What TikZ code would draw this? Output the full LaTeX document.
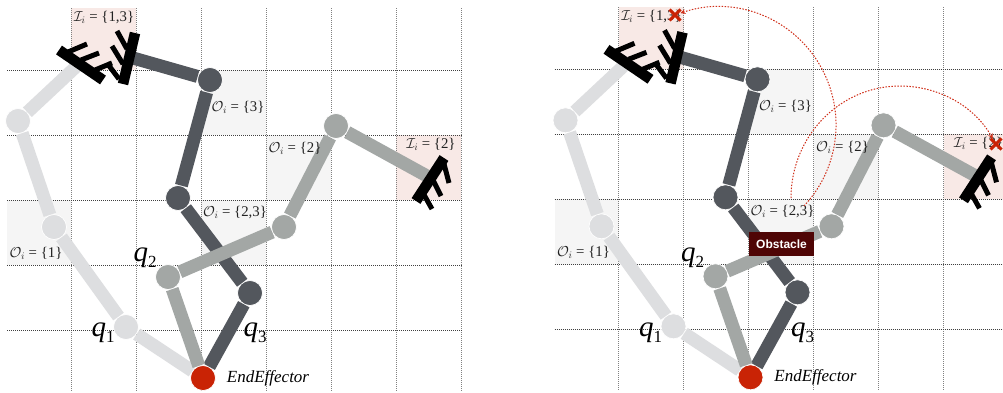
\documentclass[tikz,border=0pt]{standalone}
\usepackage{fontspec}
\setmainfont{Liberation Serif}
\setsansfont{Liberation Sans}
\usetikzlibrary{arrows.meta,shapes.misc}
\definecolor{light}{HTML}{DDDEE0}
\definecolor{mid}{HTML}{A3A7A5}
\definecolor{dark}{HTML}{53575D}
\definecolor{effector}{HTML}{C92305}
\definecolor{blocked}{HTML}{4F0505}
\definecolor{soft}{HTML}{F5F5F5}
\definecolor{blush}{HTML}{F8E9E6}
\definecolor{ink}{HTML}{222222}
\definecolor{trace}{HTML}{D0301A}
\newcommand{\qsub}[1]{\textit{q}\raisebox{-6pt}{\fontsize{17}{17}\selectfont #1}}

\begin{document}
\begin{tikzpicture}[x=1pt,y=-1pt,
 outcell/.style={fill=soft},incell/.style={fill=blush},
 hgrid/.style={black!75,line width=.8pt,dash pattern=on 1pt off 1pt},
 vgrid/.style={black!50,line width=.8pt,dash pattern=on 1pt off 1pt},
 link/.style={line width=13pt},
 joint/.style={circle,draw=white,line width=.7pt,minimum size=25pt,inner sep=0pt},
 bar/.style={black,line width=10.5pt},
 prong/.style={black,line width=5pt},
 setlabel/.style={font=\fontsize{14.8}{14.8}\selectfont,text=ink,inner sep=0pt},
 qlabel/.style={font=\fontsize{29}{29}\selectfont,text=black,inner sep=0pt},
 trail/.style={trace,line width=1pt,dash pattern=on 1.5pt off 1.5pt,-{Stealth[length=5pt,width=5pt]}},
 miss/.style={cross out,draw=effector,line width=3pt,minimum size=8pt,inner sep=0pt}]
 \useasboundingbox (0,0) rectangle (1003,392);
 \fill[white] (0,0) rectangle (1003,392);
 \foreach \pname/\dx/\dy in {left/0/0,right/547.5/.7}{
 \begin{scope}[xshift=\dx,yshift=\dy,name prefix=\pname-]
  % shaded cells
  \fill[incell] (71,8) rectangle (136,70);
  \fill[incell] (396,135) rectangle (461,200);
  \fill[outcell] (201,70) rectangle (266,135);
  \fill[outcell] (266,135) rectangle (331,200);
  \fill[outcell] (201,200) rectangle (266,265);
  \fill[outcell] (7,200) rectangle (71,265);
  \foreach \gx in {71,136,...,461} \draw[vgrid] (\gx,8)--(\gx,392);
  \foreach \gy in {70,135,...,330} \draw[hgrid] (7,\gy)--(462,\gy);
  % joints
  \node[joint,fill=light] (lightA) at (126,327) {};
  \node[joint,fill=light] (lightB) at (54,227) {};
  \node[joint,fill=light] (lightC) at (18,121) {};
  \coordinate (lightH) at (80,63);
  \node[joint,fill=dark] (darkA) at (250,293) {};
  \node[joint,fill=dark] (darkB) at (178,198) {};
  \node[joint,fill=dark] (darkC) at (210,80) {};
  \coordinate (darkH) at (133,58);
  \node[joint,fill=mid] (midA) at (168,277) {};
  \node[joint,fill=mid] (midB) at (284,227) {};
  \node[joint,fill=mid] (midC) at (336,126) {};
  \coordinate (midH) at (427,176);
  \node[joint,fill=effector] (tip) at (203,378) {};
  % links
  \draw[link,light] (tip)--(lightA);
  \draw[link,light] (lightA)--(lightB);
  \draw[link,light] (lightB)--(lightC);
  \draw[link,light] (lightC)--(lightH);
  \draw[link,dark] (tip)--(darkA);
  \draw[link,dark] (darkA)--(darkB);
  \draw[link,dark] (darkB)--(darkC);
  \draw[link,dark] (darkC)--(darkH);
  \draw[link,mid] (tip)--(midA);
  \draw[link,mid] (midA)--(midB);
  \draw[link,mid] (midB)--(midC);
  \draw[link,mid] (midC)--(midH);
  % grippers
  \draw[bar] (135,33)--(123,84);
  \draw[prong] (127,49)--(117,31);
  \draw[prong] (123,64)--(112,46);
  \draw[prong] (119,79)--(107,63);
  \draw[bar] (59,50)--(103,80);
  \draw[prong] (68,52)--(87,44);
  \draw[prong] (81,60)--(99,53);
  \draw[prong] (95,70)--(112,63);
  \draw[bar] (444,158)--(416,201);
  \draw[prong] (443,160)--(449,183);
  \draw[prong] (432,178)--(441,196);
  \draw[prong] (423,193)--(432,209);
  % labels
  \node[setlabel] (inA) at (104,17) {$\mathcal{I}_i$ = \{1,3\}};
  \node[setlabel] (outC) at (238,107) {$\mathcal{O}_i$ = \{3\}};
  \node[setlabel] (outB) at (295,148) {$\mathcal{O}_i$ = \{2\}};
  \node[setlabel] (inB) at (431,144) {$\mathcal{I}_i$ = \{2\}};
  \node[setlabel] (outBC) at (235,212) {$\mathcal{O}_i$ = \{2,3\}};
  \node[setlabel] (outA) at (36,253) {$\mathcal{O}_i$ = \{1\}};
  \node[qlabel] (qone) at (103,333) {\qsub{1}};
  \node[qlabel] (qtwo) at (145,258) {\qsub{2}};
  \node[qlabel] (qthree) at (255,333) {\qsub{3}};
  \node[font=\fontsize{17}{17}\selectfont\itshape,inner sep=0pt] (tiplabel) at (268,378) {EndEffector};
 \end{scope}}
 % failed reach on the right
 \node[fill=blocked,text=white,font=\sffamily\bfseries\fontsize{12}{12}\selectfont,minimum width=65pt,minimum height=24pt,inner sep=0pt] (obstacle) at (781.5,244) {Obstacle};
 \node[miss] (missA) at (675,15) {};
 \node[miss] (missB) at (996,144) {};
 \coordinate (fromA) at (804,206);
 \coordinate (fromB) at (791,198);
 \draw[trail] (fromA) .. controls (840.8,166.7) and (846.5,107.7) .. (817.9,61.9) .. controls (789.3,16.1) and (732.7,-4.7) .. (missA);
 \draw[trail] (fromB) .. controls (791,136) and (840,86) .. (900,86) .. controls (935,86) and (972,103) .. (missB);
\end{tikzpicture}
\end{document}
